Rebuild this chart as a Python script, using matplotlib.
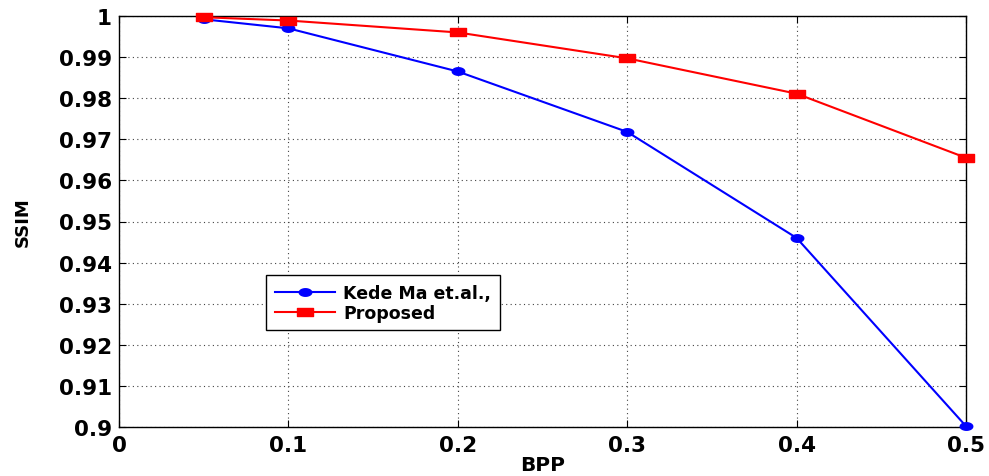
import matplotlib
matplotlib.use("Agg")
import matplotlib.pyplot as plt
import numpy as np
from matplotlib.path import Path

bpp = [0.05, 0.1, 0.2, 0.3, 0.4, 0.5]
kede_ma = [0.9992, 0.9970, 0.9865, 0.9718, 0.9460, 0.9002]
proposed = [0.9997, 0.9989, 0.9960, 0.9897, 0.9811, 0.9655]
xticks = [0, 0.1, 0.2, 0.3, 0.4, 0.5]
yticks = [0.9, 0.91, 0.92, 0.93, 0.94, 0.95, 0.96, 0.97, 0.98, 0.99, 1]

plt.rcParams['font.family'] = ['DejaVu Sans']
plt.rcParams['font.weight'] = 'bold'

# horizontally stretched marker shapes (as in the reference image)
theta = np.linspace(0, 2 * np.pi, 40)
ellipse = Path(np.column_stack([np.cos(theta), 0.6 * np.sin(theta)]), closed=True)
rect = Path([(-1, -0.5), (1, -0.5), (1, 0.5), (-1, 0.5), (-1, -0.5)], closed=True)

fig = plt.figure(figsize=(9.89, 4.77), dpi=100)
L, R, T, B = 119, 966, 17, 428
ax = fig.add_axes([L/989, 1 - B/477, (R-L)/989, (B-T)/477])

ax.plot(bpp, kede_ma, color='#0000ff', marker=ellipse, markersize=9, linewidth=1.5,
        label='Kede Ma et.al.,', clip_on=False, zorder=3)
ax.plot(bpp, proposed, color='#ff0000', marker=rect, markersize=11, linewidth=1.5,
        label='Proposed', clip_on=False, zorder=3)

ax.set_xlim(0, 0.5)
ax.set_ylim(0.9, 1)
ax.set_xticks(xticks)
ax.set_xticklabels([f"{v:g}" for v in xticks])
ax.set_yticks(yticks)
ax.set_yticklabels([f"{v:g}" for v in yticks])
ax.grid(True, linestyle=(0, (1, 3)), color='#444444', linewidth=0.8)
ax.tick_params(direction='in', top=True, right=True, labelsize=15.5, length=5, width=0.8)
ax.tick_params(axis='y', pad=5)
ax.tick_params(axis='x', pad=6)
for lab in ax.get_xticklabels() + ax.get_yticklabels():
    lab.set_fontweight('bold')
for s in ax.spines.values():
    s.set_linewidth(1.0)

ax.set_xlabel('BPP', fontsize=14.5, fontweight='bold', va='center')
ax.xaxis.set_label_coords(0.5, (B - 466) / (B - T))
ax.set_ylabel('SSIM', fontsize=13, fontweight='bold', va='center')
ax.yaxis.set_label_coords((23 - L) / (R - L), 0.5)

leg = ax.legend(loc='upper left', bbox_to_anchor=(266/989, 1 - 276/477),
                bbox_transform=fig.transFigure, fontsize=12.5,
                frameon=True, fancybox=False, edgecolor='black', handlelength=3.5,
                borderpad=0.5, labelspacing=0.12, handletextpad=0.45, borderaxespad=0,
                framealpha=1)
leg.get_frame().set_linewidth(1.0)
for t in leg.get_texts():
    t.set_fontweight('bold')

fig.savefig('out.png', dpi=100)
